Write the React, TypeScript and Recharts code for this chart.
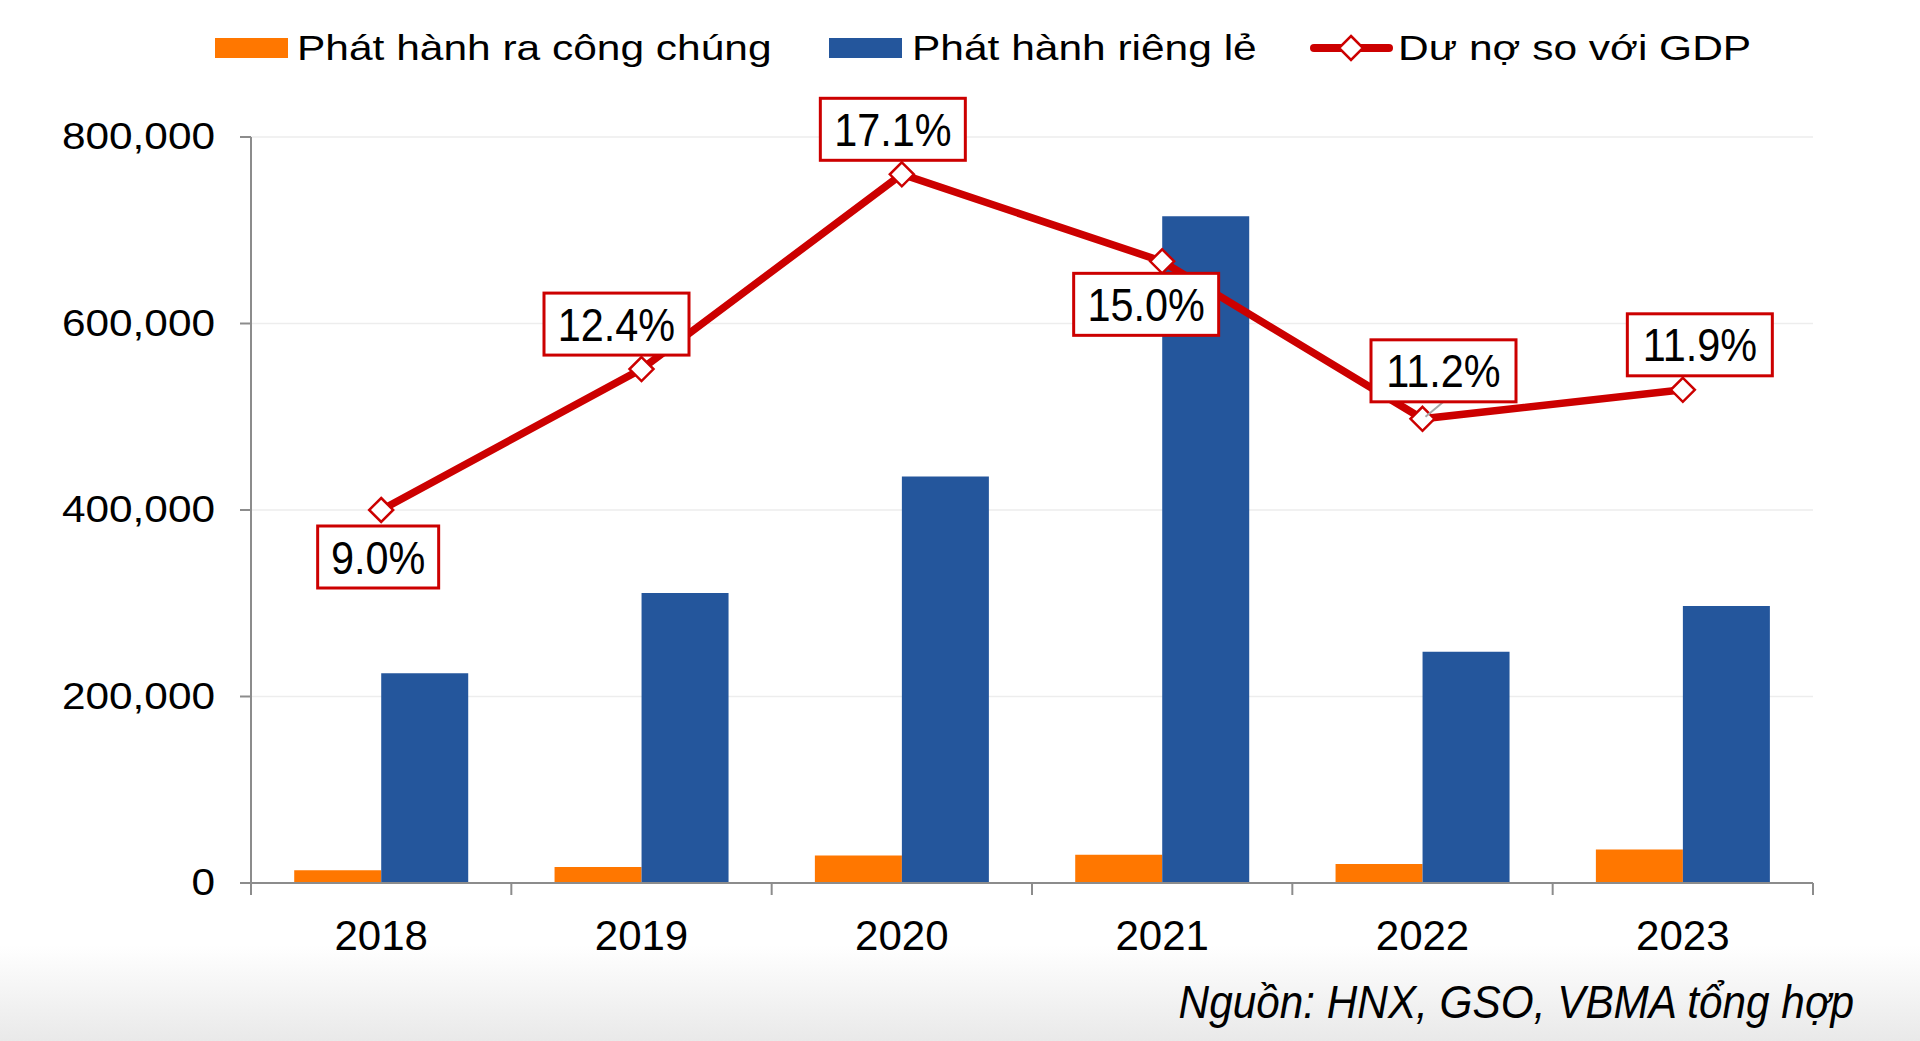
import { Bar, CartesianGrid, ComposedChart, Line, XAxis, YAxis } from "recharts"

// Dữ liệu (tỷ đồng, % GDP)
const years = ["2018", "2019", "2020", "2021", "2022", "2023"]
const phatHanhCongChung = [13600, 17200, 29600, 30400, 20400, 36000]
const phatHanhRiengLe = [225000, 311000, 436000, 715000, 248000, 297000]
const duNoGdp = [9.0, 12.4, 17.1, 15.0, 11.2, 11.9]
const yTicks = [0, 200000, 400000, 600000, 800000]

const data = years.map((year, i) => ({
  year,
  congChung: phatHanhCongChung[i],
  riengLe: phatHanhRiengLe[i],
  duNo: duNoGdp[i],
}))

// vị trí hộp nhãn so với điểm
const labelPos = [
  { dx: -3, dy: 47, leader: false },
  { dx: -25, dy: -45, leader: false },
  { dx: -9, dy: -45, leader: false },
  { dx: -16, dy: 43, leader: false },
  { dx: 21, dy: -48, leader: true },
  { dx: 17, dy: -45, leader: false },
]

const FONT = "'Liberation Sans', Arial, Helvetica, sans-serif"
const RED = "#CC0000"
const ORANGE = "#FF7700"
const BLUE = "#24569C"
const AXIS = "#8C8C8C"

const PLOT_LEFT = 251
const PLOT_RIGHT = 1813
const BAND = (PLOT_RIGHT - PLOT_LEFT) / years.length

function Diamond(props: any) {
  const { cx, cy } = props
  if (cx == null || cy == null) return null
  const r = 12
  return (
    <polygon
      points={`${cx},${cy - r} ${cx + r},${cy} ${cx},${cy + r} ${cx - r},${cy}`}
      fill="#fff"
      stroke={RED}
      strokeWidth={2.5}
    />
  )
}

function PctLabel(props: any) {
  const { cx, cy, index, value } = props
  if (cx == null || cy == null) return null
  const p = labelPos[index]
  const bx = cx + p.dx
  const by = cy + p.dy
  const text = `${Number(value).toFixed(1)}%`
  const w = text.length > 4 ? 145 : 121
  const h = 62
  return (
    <g>
      {p.leader && (
        <line x1={cx + 3} y1={cy - 2} x2={bx} y2={by + h / 2} stroke="#A6A6A6" strokeWidth={2} />
      )}
      <rect x={bx - w / 2} y={by - h / 2} width={w} height={h} fill="#fff" stroke={RED} strokeWidth={3} />
      <g transform={`translate(${bx},${by}) scale(0.9,1)`}>
        <text x={0} y={0} dy={16.5} textAnchor="middle" fontSize={46} fontFamily={FONT} fill="#000">
          {text}
        </text>
      </g>
    </g>
  )
}

function YTick(props: any) {
  const { x, y, payload } = props
  return (
    <g transform={`translate(${x},${y}) scale(1.16,1)`}>
      <text x={0} y={0} dy={12} textAnchor="end" fontSize={36.5} fontFamily={FONT} fill="#000">
        {Number(payload.value).toLocaleString("en-US")}
      </text>
    </g>
  )
}

function XTick(props: any) {
  const { x, y, payload, index } = props
  const half = BAND / 2
  return (
    <g>
      <line x1={x - half} y1={y - 12} x2={x - half} y2={y} stroke={AXIS} strokeWidth={2} />
      {index === years.length - 1 && (
        <line x1={x + half} y1={y - 12} x2={x + half} y2={y} stroke={AXIS} strokeWidth={2} />
      )}
      <text x={x} y={y} dy={55} textAnchor="middle" fontSize={42} fontFamily={FONT} fill="#000">
        {payload.value}
      </text>
    </g>
  )
}

function LegendAndSource() {
  return (
    <svg
      width={1920}
      height={1041}
      style={{ position: "absolute", left: 0, top: 0, pointerEvents: "none" }}
    >
      <rect x={215} y={38} width={73} height={20} fill={ORANGE} />
      <g transform="translate(297,60) scale(1.18,1)">
        <text fontSize={36} fontFamily={FONT} fill="#000">Phát hành ra công chúng</text>
      </g>
      <rect x={829} y={38} width={73} height={20} fill={BLUE} />
      <g transform="translate(912,60) scale(1.18,1)">
        <text fontSize={36} fontFamily={FONT} fill="#000">Phát hành riêng lẻ</text>
      </g>
      <line x1={1314} y1={48} x2={1389} y2={48} stroke={RED} strokeWidth={8} strokeLinecap="round" />
      <polygon points="1351,36 1363,48 1351,60 1339,48" fill="#fff" stroke={RED} strokeWidth={2.5} />
      <g transform="translate(1398,60) scale(1.18,1)">
        <text fontSize={36} fontFamily={FONT} fill="#000">Dư nợ so với GDP</text>
      </g>
      <g transform="translate(1854,1018) scale(0.92,1)">
        <text textAnchor="end" fontSize={46} fontStyle="italic" fontFamily={FONT} fill="#000">
          Nguồn: HNX, GSO, VBMA tổng hợp
        </text>
      </g>
    </svg>
  )
}

export default function App() {
  return (
    <div
      style={{
        position: "absolute",
        left: 0,
        top: 0,
        width: 1920,
        height: 1041,
        background: "#fff",
        overflow: "hidden",
      }}
    >
      <div
        style={{
          position: "absolute",
          left: 0,
          top: 945,
          width: 1920,
          height: 96,
          background: "linear-gradient(to bottom, rgba(255,255,255,0), #e9e9e9)",
        }}
      />
      <div style={{ position: "absolute", left: 0, top: 0 }}>
        <ComposedChart
          width={1920}
          height={1041}
          data={data}
          margin={{ top: 137, right: 1920 - PLOT_RIGHT, bottom: 98, left: PLOT_LEFT - 120 }}
          barCategoryGap="16.6%"
          barGap={0}
        >
          <CartesianGrid yAxisId="left" vertical={false} stroke="#EDEDED" strokeWidth={1.5} />
          <XAxis
            dataKey="year"
            height={60}
            interval={0}
            axisLine={{ stroke: AXIS, strokeWidth: 2 }}
            tickLine={false}
            tickSize={12}
            tickMargin={0}
            tick={<XTick />}
          />
          <YAxis
            yAxisId="left"
            width={120}
            domain={[0, 800000]}
            ticks={yTicks}
            axisLine={{ stroke: AXIS, strokeWidth: 2 }}
            tickLine={{ stroke: AXIS, strokeWidth: 2 }}
            tickSize={11}
            tickMargin={25}
            tick={<YTick />}
          />
          <YAxis yAxisId="right" orientation="right" domain={[0, 18]} hide />
          <Bar yAxisId="left" dataKey="congChung" fill={ORANGE} isAnimationActive={false} />
          <Bar yAxisId="left" dataKey="riengLe" fill={BLUE} isAnimationActive={false} />
          <Line
            yAxisId="right"
            dataKey="duNo"
            stroke={RED}
            strokeWidth={7.5}
            dot={<Diamond />}
            activeDot={false}
            isAnimationActive={false}
          />
          <Line
            yAxisId="right"
            dataKey="duNo"
            stroke="none"
            dot={<PctLabel />}
            activeDot={false}
            legendType="none"
            isAnimationActive={false}
          />
        </ComposedChart>
      </div>
      <LegendAndSource />
    </div>
  )
}
